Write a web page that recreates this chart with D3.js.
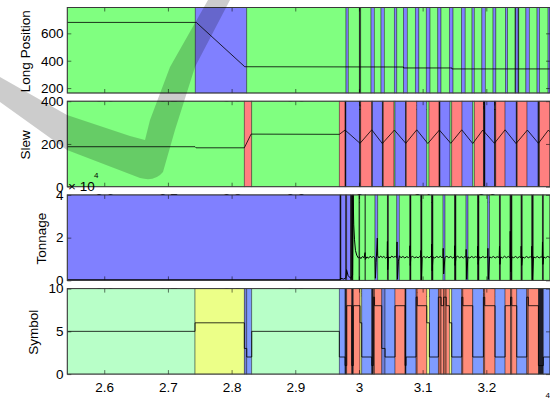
<!DOCTYPE html>
<html lang="en">
<head>
<meta charset="UTF-8">
<title>Long Position / Slew / Tonnage / Symbol</title>
<script src="https://d3js.org/d3.v7.min.js"></script>
<style>
  body { margin: 0; background: #fff; }
  svg { display: block; font-family: "Liberation Sans", Arial, sans-serif; }
</style>
</head>
<body>
<svg id="canvas"></svg>
<script>

// x axis (x 10^4)
let xDomain = [2.542, 3.3]
let xTicks = [2.6, 2.7, 2.8, 2.9, 3.0, 3.1, 3.2]

// Long Position : bands [start, end, state], line [x, value]
let longTicks = [200, 400, 600]
let longBands = [
  [2.5420, 2.7430, 'g'], [2.7430, 2.8238, 'b'], [2.8238, 2.9797, 'g'], [2.9797, 2.9833, 'b'],
  [2.9833, 3.0006, 'g'], [3.0006, 3.0028, 'k'], [3.0028, 3.0190, 'g'], [3.0190, 3.0242, 'b'],
  [3.0242, 3.0347, 'g'], [3.0347, 3.0399, 'b'], [3.0399, 3.0556, 'g'], [3.0556, 3.0594, 'b'],
  [3.0594, 3.0700, 'g'], [3.0700, 3.0760, 'b'], [3.0760, 3.0886, 'g'], [3.0886, 3.0941, 'b'],
  [3.0941, 3.1058, 'g'], [3.1058, 3.1117, 'b'], [3.1117, 3.1238, 'g'], [3.1238, 3.1289, 'b'],
  [3.1289, 3.1420, 'g'], [3.1420, 3.1478, 'b'], [3.1478, 3.1611, 'g'], [3.1611, 3.1669, 'b'],
  [3.1669, 3.1776, 'g'], [3.1776, 3.1812, 'b'], [3.1812, 3.1930, 'g'], [3.1930, 3.1985, 'b'],
  [3.1985, 3.2106, 'g'], [3.2106, 3.2150, 'b'], [3.2150, 3.2302, 'g'], [3.2302, 3.2334, 'b'],
  [3.2334, 3.2452, 'g'], [3.2452, 3.2462, 'k'], [3.2462, 3.2500, 'b'], [3.2500, 3.2510, 'k'],
  [3.2510, 3.2621, 'g'], [3.2621, 3.2676, 'b'], [3.2676, 3.2797, 'g'], [3.2797, 3.2836, 'b'],
  [3.2836, 3.2970, 'g'], [3.2970, 3.3000, 'b']
]
let longLine = [
  [2.5420, 680], [2.7445, 680], [2.8207, 356], [3.0700, 354], [3.0700, 347],
  [3.1460, 347], [3.1460, 340], [3.3000, 340]
]

// Slew
let slewTicks = [0, 200, 400]
let slewBands = [
  [2.5420, 2.8200, 'g'], [2.8200, 2.8316, 'r'], [2.8316, 2.9692, 'g'], [2.9692, 2.9782, 'r'],
  [2.9782, 2.9797, 'k'], [2.9797, 3.0009, 'b'], [3.0009, 3.0028, 'k'], [3.0028, 3.0201, 'r'],
  [3.0201, 3.0213, 'k'], [3.0213, 3.0367, 'b'], [3.0367, 3.0383, 'k'], [3.0383, 3.0551, 'r'],
  [3.0551, 3.0567, 'g'], [3.0567, 3.0732, 'b'], [3.0732, 3.0744, 'k'], [3.0744, 3.0908, 'r'],
  [3.0908, 3.1065, 'b'], [3.1065, 3.1101, 'g'], [3.1101, 3.1258, 'r'], [3.1258, 3.1274, 'k'],
  [3.1274, 3.1431, 'b'], [3.1431, 3.1457, 'g'], [3.1457, 3.1619, 'r'], [3.1619, 3.1787, 'b'],
  [3.1787, 3.1812, 'g'], [3.1812, 3.1954, 'r'], [3.1954, 3.1980, 'k'], [3.1980, 3.2127, 'b'],
  [3.2127, 3.2149, 'k'], [3.2149, 3.2295, 'r'], [3.2295, 3.2470, 'b'], [3.2470, 3.2486, 'k'],
  [3.2486, 3.2640, 'r'], [3.2640, 3.2813, 'b'], [3.2813, 3.2836, 'k'], [3.2836, 3.3000, 'r']
]
let slewLine = [
  [2.5420, 187], [2.7426, 187], [2.7442, 182], [2.8200, 182], [2.8306, 246], [2.9692, 245],
  [2.9782, 265], [3.0017, 203], [3.0201, 266], [3.0367, 202], [3.0556, 265], [3.0735, 203],
  [3.0908, 266], [3.1081, 202], [3.1263, 265], [3.1442, 203], [3.1614, 266], [3.1787, 202],
  [3.1944, 265], [3.2127, 203], [3.2295, 266], [3.2467, 202], [3.2645, 265], [3.2818, 203],
  [3.2975, 265], [3.3000, 256]
]

// Tonnage (x 10^4)
let tonTicks = [0, 2, 4]
let tonBands = [
  [2.5420, 2.9703, 'b'], [2.9703, 2.9719, 'k'], [2.9719, 2.9792, 'b'], [2.9792, 2.9808, 'k'],
  [2.9808, 2.9868, 'b'], [2.9868, 2.9907, 'k'], [2.9907, 3.0001, 'g'], [3.0001, 3.0012, 'k'],
  [3.0012, 3.0095, 'g'], [3.0095, 3.0102, 'k'], [3.0102, 3.0253, 'g'], [3.0253, 3.0295, 'b'],
  [3.0295, 3.0446, 'g'], [3.0446, 3.0465, 'k'], [3.0465, 3.0594, 'g'], [3.0594, 3.0634, 'b'],
  [3.0634, 3.0799, 'g'], [3.0799, 3.0818, 'k'], [3.0818, 3.0971, 'g'], [3.0971, 3.0991, 'k'],
  [3.0991, 3.1140, 'g'], [3.1140, 3.1164, 'k'], [3.1164, 3.1321, 'g'], [3.1321, 3.1352, 'b'],
  [3.1352, 3.1501, 'g'], [3.1501, 3.1525, 'k'], [3.1525, 3.1682, 'g'], [3.1682, 3.1713, 'b'],
  [3.1713, 3.1863, 'g'], [3.1863, 3.1886, 'k'], [3.1886, 3.2023, 'g'], [3.2023, 3.2051, 'b'],
  [3.2051, 3.2205, 'g'], [3.2205, 3.2224, 'k'], [3.2224, 3.2373, 'g'], [3.2373, 3.2405, 'k'],
  [3.2405, 3.2546, 'g'], [3.2546, 3.2566, 'k'], [3.2566, 3.2714, 'g'], [3.2714, 3.2739, 'k'],
  [3.2739, 3.2880, 'g'], [3.2880, 3.2899, 'k'], [3.2899, 3.3000, 'g']
]
let tonLine = [
  [2.5420, 0.03], [2.9700, 0.03], [2.9712, 0.10], [2.9760, 0.06], [2.9795, 0.12], [2.9805, 0.50],
  [2.9830, 0.22], [2.9870, 0.10], [2.9900, 0.25], [2.9909, 4.00], [2.9918, 2.60], [2.9930, 1.90],
  [2.9945, 1.40], [2.9965, 1.18], [2.9990, 1.05], [3.0010, 1.10], [3.0030, 1.02], [3.0055, 1.12],
  [3.0080, 1.06], [3.0096, 1.30], [3.0100, 0.98], [3.0125, 1.10], [3.0150, 1.04], [3.0175, 1.13],
  [3.0200, 1.07], [3.0230, 1.12], [3.0252, 1.05], [3.0258, 0.10], [3.0270, 0.85], [3.0288, 1.98],
  [3.0294, 1.15], [3.0315, 1.05], [3.0340, 1.14], [3.0365, 1.07], [3.0390, 1.12], [3.0420, 1.04],
  [3.0443, 1.10], [3.0447, 1.82], [3.0452, 0.50], [3.0462, 1.10], [3.0490, 1.05], [3.0515, 1.14],
  [3.0540, 1.08], [3.0570, 1.12], [3.0592, 1.06], [3.0598, 1.80], [3.0605, 0.05], [3.0620, 0.90],
  [3.0635, 1.15], [3.0660, 1.06], [3.0690, 1.12], [3.0720, 1.05], [3.0750, 1.11], [3.0780, 1.07],
  [3.0797, 1.12], [3.0801, 1.62], [3.0806, 0.70], [3.0815, 1.08], [3.0845, 1.13], [3.0870, 1.05],
  [3.0900, 1.10], [3.0930, 1.06], [3.0955, 1.12], [3.0969, 1.08], [3.0973, 1.40], [3.0980, 0.02],
  [3.0992, 1.05], [3.1020, 1.12], [3.1045, 1.06], [3.1075, 1.11], [3.1100, 1.05], [3.1125, 1.12],
  [3.1138, 1.06], [3.1142, 1.70], [3.1150, 0.45], [3.1163, 1.10], [3.1190, 1.05], [3.1220, 1.12],
  [3.1250, 1.07], [3.1280, 1.13], [3.1305, 1.05], [3.1319, 1.10], [3.1323, 1.50], [3.1330, 0.30],
  [3.1350, 1.08], [3.1380, 1.13], [3.1410, 1.06], [3.1440, 1.12], [3.1470, 1.05], [3.1499, 1.10],
  [3.1503, 1.62], [3.1510, 0.70], [3.1523, 1.08], [3.1550, 1.13], [3.1580, 1.06], [3.1610, 1.11],
  [3.1640, 1.05], [3.1665, 1.12], [3.1680, 1.07], [3.1684, 1.45], [3.1692, 0.05], [3.1710, 1.10],
  [3.1740, 1.05], [3.1770, 1.12], [3.1800, 1.06], [3.1830, 1.11], [3.1861, 1.07], [3.1865, 1.60],
  [3.1872, 0.75], [3.1885, 1.10], [3.1915, 1.05], [3.1945, 1.12], [3.1975, 1.06], [3.2005, 1.10],
  [3.2021, 1.05], [3.2025, 1.50], [3.2032, 0.05], [3.2050, 1.10], [3.2080, 1.06], [3.2110, 1.12],
  [3.2140, 1.05], [3.2170, 1.11], [3.2203, 1.07], [3.2207, 1.60], [3.2214, 0.75], [3.2225, 1.10],
  [3.2255, 1.05], [3.2285, 1.13], [3.2315, 1.06], [3.2345, 1.12], [3.2371, 1.05], [3.2376, 2.30],
  [3.2384, 0.40], [3.2400, 1.10], [3.2430, 1.06], [3.2460, 1.12], [3.2490, 1.05], [3.2520, 1.11],
  [3.2544, 1.07], [3.2548, 1.60], [3.2555, 0.70], [3.2568, 1.10], [3.2600, 1.05], [3.2630, 1.12],
  [3.2660, 1.06], [3.2690, 1.11], [3.2712, 1.05], [3.2716, 1.60], [3.2724, 0.05], [3.2740, 1.10],
  [3.2770, 1.06], [3.2800, 1.12], [3.2830, 1.05], [3.2860, 1.11], [3.2878, 1.07], [3.2882, 1.80],
  [3.2889, 0.75], [3.2900, 1.10], [3.2930, 1.05], [3.2960, 1.12], [3.3000, 1.07]
]

// Symbol : bands [start, end, symbol value]
let symTicks = [0, 5, 10]
let symBands = [
  [2.5420, 2.7426, 5], [2.7426, 2.8200, 6], [2.8200, 2.8238, 3], [2.8238, 2.8316, 2],
  [2.8316, 2.9692, 5], [2.9692, 2.9782, 2], [2.9782, 2.9808, 1], [2.9808, 2.9887, 8],
  [2.9887, 2.9912, 1], [2.9912, 3.0017, 8], [3.0017, 3.0044, 6], [3.0044, 3.0201, 2],
  [3.0201, 3.0226, 1], [3.0226, 3.0245, 9], [3.0245, 3.0358, 8], [3.0358, 3.0410, 3],
  [3.0410, 3.0567, 2], [3.0567, 3.0724, 8], [3.0724, 3.0740, 1], [3.0740, 3.0897, 2],
  [3.0897, 3.0915, 9], [3.0915, 3.1065, 8], [3.1065, 3.1106, 6], [3.1106, 3.1247, 2],
  [3.1247, 3.1290, 9], [3.1290, 3.1330, 8], [3.1330, 3.1370, 9], [3.1370, 3.1420, 8],
  [3.1420, 3.1457, 6], [3.1457, 3.1614, 2], [3.1614, 3.1632, 9], [3.1632, 3.1787, 8],
  [3.1787, 3.1954, 2], [3.1954, 3.1975, 9], [3.1975, 3.2137, 8], [3.2137, 3.2295, 2],
  [3.2295, 3.2380, 8], [3.2380, 3.2400, 9], [3.2400, 3.2478, 8], [3.2478, 3.2635, 2],
  [3.2635, 3.2660, 9], [3.2660, 3.2818, 8], [3.2818, 3.2896, 1], [3.2896, 3.3000, 2]
]

let stateColor = { g: '#80ff80', b: '#8080ff', r: '#ff8080', k: '#141414' }
let symbolColor = { 1: '#1e1e28', 2: '#7f9cff', 3: '#6f7fd8', 5: '#b8ffc8', 6: '#ecff88', 8: '#ff8c7a', 9: '#b9604f' }

let width = 550
let height = 401
let left = 67.3
let right = 550
let panelTop = 7.5
let panelStep = 93.7
let panelHeight = 85.5
let fontSize = '13.5px'

let svg = d3.select('#canvas').attr('width', width).attr('height', height)
svg.append('rect').attr('width', width).attr('height', height).attr('fill', '#fff')

let xScale = d3.scaleLinear().domain(xDomain).range([left, right])

let symLine = symBands.map(d => [d[0], d[2]])
symLine.push([symBands[symBands.length - 1][1], symBands[symBands.length - 1][2]])

let panels = [
  { label: 'Long Position', labelX: 29.7, domain: [164, 789], ticks: longTicks, bands: longBands,
    color: d => stateColor[d[2]], line: longLine, curve: d3.curveLinear, lw: 0.8 },
  { label: 'Slew', labelX: 29.7, domain: [0, 400], ticks: slewTicks, bands: slewBands,
    color: d => stateColor[d[2]], line: slewLine, curve: d3.curveLinear, lw: 0.8 },
  { label: 'Tonnage', labelX: 45.7, domain: [0, 4], ticks: tonTicks, bands: tonBands,
    color: d => stateColor[d[2]], line: tonLine, curve: d3.curveLinear, lw: 1 },
  { label: 'Symbol', labelX: 38, domain: [0, 10], ticks: symTicks, bands: symBands,
    color: d => symbolColor[d[2]], line: symLine, curve: d3.curveStepAfter, lw: 0.8 }
]

let fmt = d3.format('~g')

let styleAxis = (g) => {
  g.select('.domain').remove()
  g.selectAll('.tick line').attr('stroke', '#000').attr('stroke-opacity', 0.55)
  g.selectAll('.tick text').attr('fill', '#000').style('font-size', fontSize)
    .style('font-family', '"Liberation Sans", Arial, sans-serif')
}

let drawPanel = (p, i) => {
  let top = panelTop + i * panelStep
  let bottom = top + panelHeight
  let yScale = d3.scaleLinear().domain(p.domain).range([bottom, top])
  let g = svg.append('g').attr('class', 'panel')

  g.selectAll('rect.band')
    .data(p.bands)
    .enter()
    .append('rect')
    .attr('class', 'band')
    .attr('x', d => xScale(d[0]))
    .attr('y', top)
    .attr('width', d => Math.max(xScale(d[1]) - xScale(d[0]), 0.6))
    .attr('height', panelHeight)
    .attr('fill', p.color)
    .attr('stroke', '#000')
    .attr('stroke-opacity', 0.45)
    .attr('stroke-width', 0.8)

  // x ticks, bottom with labels (hidden under the next panel), top without
  g.append('g')
    .attr('transform', 'translate(0,' + bottom + ')')
    .call(d3.axisBottom(xScale).tickValues(xTicks).tickSizeInner(-4).tickSizeOuter(0)
      .tickPadding(i === 3 ? 8.4 : 7.2).tickFormat(fmt))
    .call(styleAxis)
  g.append('g')
    .attr('transform', 'translate(0,' + top + ')')
    .call(d3.axisTop(xScale).tickValues(xTicks).tickSizeInner(-4).tickSizeOuter(0).tickFormat(''))
    .call(styleAxis)

  // y ticks, left with labels, right without
  g.append('g')
    .attr('transform', 'translate(' + left + ',0)')
    .call(d3.axisLeft(yScale).tickValues(p.ticks).tickSizeInner(-4).tickSizeOuter(0)
      .tickPadding(3.7).tickFormat(fmt))
    .call(styleAxis)
  g.append('g')
    .attr('transform', 'translate(' + right + ',0)')
    .call(d3.axisRight(yScale).tickValues(p.ticks).tickSizeInner(-4).tickSizeOuter(0).tickFormat(''))
    .call(styleAxis)

  let line = d3.line()
    .x(d => xScale(d[0]))
    .y(d => yScale(d[1]))
    .curve(p.curve)
  g.append('path')
    .datum(p.line)
    .attr('d', line)
    .attr('fill', 'none')
    .attr('stroke', '#000')
    .attr('stroke-width', p.lw)

  g.append('rect')
    .attr('x', left)
    .attr('y', top)
    .attr('width', right - left)
    .attr('height', panelHeight)
    .attr('fill', 'none')
    .attr('stroke', '#3a3a3a')
    .attr('stroke-width', 1)

  g.append('text')
    .attr('transform', 'translate(' + p.labelX + ',' + (top + panelHeight / 2 + 1) + ') rotate(-90)')
    .attr('text-anchor', 'middle')
    .style('font-size', fontSize)
    .text(p.label)

  // tonnage exponent
  if (i === 2) {
    g.append('text').attr('x', 68).attr('y', 190.5).style('font-size', fontSize).text('× 10')
    g.append('text').attr('x', 94).attr('y', 177.5).style('font-size', '8px').text('4')
  }
}

panels.forEach(drawPanel)

// x exponent, cut off by the right border
svg.append('text').attr('x', 545.5).attr('y', 398).style('font-size', '8px').text('4')

// watermark
svg.append('path')
  .attr('d', 'M0,77 L67,115 L130,136 L145,140 L150,120 L170,67 L208,0 L230,0 L195,67 L175,130 L163,172 Q155,182 140,178 L67,150 L0,102 Z')
  .attr('fill', '#000')
  .attr('fill-opacity', 0.2)
</script>
</body>
</html>
